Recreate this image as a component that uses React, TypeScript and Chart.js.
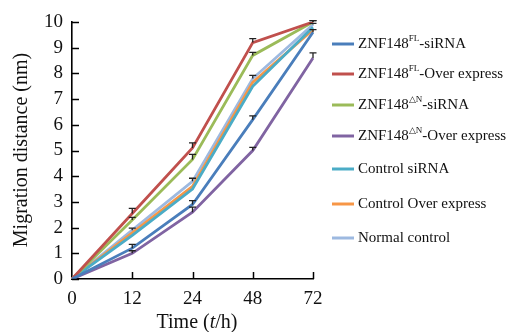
import React, { useEffect, useRef } from "react";
import { Chart, registerables } from "chart.js";

Chart.register(...registerables);

const categories = ["0", "12", "24", "48", "72"];
const yTicks = [0, 1, 2, 3, 4, 5, 6, 7, 8, 9, 10];

const flSiRNA = [0, 1.2, 2.9, 6.2, 9.6];
const flOver = [0, 2.55, 5.1, 9.2, 10.0];
const dnSiRNA = [0, 2.3, 4.65, 8.7, 10.0];
const dnOver = [0, 1.0, 2.6, 5.0, 8.6];
const ctrlSiRNA = [0, 1.7, 3.5, 7.5, 9.8];
const ctrlOver = [0, 1.8, 3.6, 7.65, 9.7];
const normalCtrl = [0, 1.9, 3.8, 7.8, 9.9];

const flSiRNAErr = [0, 0.15, 0.15, 0.15, 0.1];
const flOverErr = [0, 0.2, 0.2, 0.15, 0.05];
const dnSiRNAErr = [0, 0.1, 0.2, 0.12, 0.05];
const dnOverErr = [0, 0.1, 0.2, 0.12, 0.2];
const ctrlSiRNAErr = [0, 0, 0, 0, 0];
const ctrlOverErr = [0, 0, 0, 0, 0];
const normalCtrlErr = [0, 0.08, 0.12, 0.12, 0.05];

type LegendItem = { main: string; sup: string; rest: string; y: number };
const legendItems: LegendItem[] = [
  { main: "ZNF148", sup: "FL", rest: "-siRNA", y: 44 },
  { main: "ZNF148", sup: "FL", rest: "-Over express", y: 74 },
  { main: "ZNF148", sup: "\u25B3N", rest: "-siRNA", y: 105 },
  { main: "ZNF148", sup: "\u25B3N", rest: "-Over express", y: 136 },
  { main: "Control siRNA", sup: "", rest: "", y: 169 },
  { main: "Control Over express", sup: "", rest: "", y: 204 },
  { main: "Normal control", sup: "", rest: "", y: 238 },
];

const colors = ["#4A7EBB", "#C0504D", "#9BBB59", "#8064A2", "#4BACC6", "#F79646", "#9DB9E0"];
const seriesValues = [flSiRNA, flOver, dnSiRNA, dnOver, ctrlSiRNA, ctrlOver, normalCtrl];
const seriesErrors = [flSiRNAErr, flOverErr, dnSiRNAErr, dnOverErr, ctrlSiRNAErr, ctrlOverErr, normalCtrlErr];

const SERIF = "'Liberation Serif', 'Times New Roman', serif";

const decorPlugin = {
  id: "decor",
  afterDatasetsDraw(chart: any) {
    const ctx = chart.ctx;
    const xs = chart.scales.x;
    const ys = chart.scales.y;
    const area = chart.chartArea;
    ctx.save();
    ctx.strokeStyle = "#222";
    ctx.lineWidth = 1.3;
    chart.data.datasets.forEach((ds: any, di: number) => {
      const errs = seriesErrors[di];
      ds.data.forEach((v: number, i: number) => {
        const e = errs[i];
        if (!e) return;
        const px = xs.getPixelForValue(i);
        const y0 = ys.getPixelForValue(v);
        const y1 = ys.getPixelForValue(v + e);
        ctx.beginPath();
        ctx.moveTo(px, y0);
        ctx.lineTo(px, y1);
        ctx.moveTo(px - 3.5, y1);
        ctx.lineTo(px + 3.5, y1);
        ctx.stroke();
      });
    });
    ctx.strokeStyle = "#000";
    ctx.lineWidth = 1.5;
    yTicks.forEach((t) => {
      const py = Math.round(ys.getPixelForValue(t)) + 0.5;
      ctx.beginPath();
      ctx.moveTo(area.left, py);
      ctx.lineTo(area.left + 7, py);
      ctx.stroke();
    });
    categories.forEach((_, i) => {
      if (i === 0) return;
      const px = Math.round(xs.getPixelForValue(i)) + 0.5;
      ctx.beginPath();
      ctx.moveTo(px, area.bottom);
      ctx.lineTo(px, area.bottom - 7);
      ctx.stroke();
    });
    ctx.restore();
  },
  afterDraw(chart: any) {
    const ctx = chart.ctx;
    ctx.save();
    ctx.fillStyle = "#111";
    legendItems.forEach((it, i) => {
      ctx.strokeStyle = colors[i];
      ctx.lineWidth = 3;
      ctx.beginPath();
      ctx.moveTo(332, it.y);
      ctx.lineTo(354, it.y);
      ctx.stroke();
      ctx.textBaseline = "middle";
      ctx.textAlign = "left";
      ctx.font = `15px ${SERIF}`;
      let x = 358;
      ctx.fillText(it.main, x, it.y);
      x += ctx.measureText(it.main).width;
      if (it.sup) {
        ctx.font = `9px ${SERIF}`;
        ctx.fillText(it.sup, x, it.y - 5);
        x += ctx.measureText(it.sup).width;
        ctx.font = `15px ${SERIF}`;
        ctx.fillText(it.rest, x, it.y);
      }
    });
    ctx.font = `20px ${SERIF}`;
    const p1 = "Time (";
    const p3 = "/h)";
    const w1 = ctx.measureText(p1).width;
    const w3 = ctx.measureText(p3).width;
    ctx.font = `italic 20px ${SERIF}`;
    const w2 = ctx.measureText("t").width;
    const total = w1 + w2 + w3;
    let x = 197 - total / 2;
    const yb = 323;
    ctx.textBaseline = "middle";
    ctx.textAlign = "left";
    ctx.font = `20px ${SERIF}`;
    ctx.fillText(p1, x, yb);
    x += w1;
    ctx.font = `italic 20px ${SERIF}`;
    ctx.fillText("t", x, yb);
    x += w2;
    ctx.font = `20px ${SERIF}`;
    ctx.fillText(p3, x, yb);
    ctx.translate(22, 150);
    ctx.rotate(-Math.PI / 2);
    ctx.textAlign = "center";
    ctx.fillText("Migration distance (nm)", 0, 0);
    ctx.restore();
  },
};

export default function App() {
  const ref = useRef<HTMLCanvasElement | null>(null);
  useEffect(() => {
    document.body.style.margin = "0";
    if (!ref.current) return;
    const chart = new Chart(ref.current, {
      type: "line",
      data: {
        labels: categories,
        datasets: seriesValues.map((vals, i) => ({
          label: legendItems[i].main + legendItems[i].sup + legendItems[i].rest,
          data: vals,
          borderColor: colors[i],
          backgroundColor: colors[i],
          borderWidth: 2.8,
          pointRadius: 0,
          tension: 0,
        })),
      },
      options: {
        animation: false,
        responsive: false,
        layout: { padding: { top: 22, right: 206, left: 0, bottom: 0 } },
        plugins: { legend: { display: false }, tooltip: { enabled: false } },
        scales: {
          x: {
            type: "category",
            offset: false,
            grid: { display: false, drawTicks: false },
            border: { display: true, color: "#000", width: 1.6 },
            ticks: { color: "#111", font: { family: SERIF, size: 19 }, padding: 9, maxRotation: 0, autoSkip: false },
            afterFit: (s: any) => {
              s.height = 53;
            },
          },
          y: {
            min: 0,
            max: 10,
            grid: { display: false, drawTicks: false },
            border: { display: true, color: "#000", width: 1.6 },
            ticks: { stepSize: 1, color: "#111", font: { family: SERIF, size: 19 }, padding: 9, autoSkip: false },
            afterFit: (s: any) => {
              s.width = 72;
            },
          },
        },
      },
      plugins: [decorPlugin],
    });
    return () => chart.destroy();
  }, []);
  return (
    <div style={{ width: 519, height: 332, background: "#fff" }}>
      <canvas ref={ref} width={519} height={332} style={{ display: "block" }} />
    </div>
  );
}
